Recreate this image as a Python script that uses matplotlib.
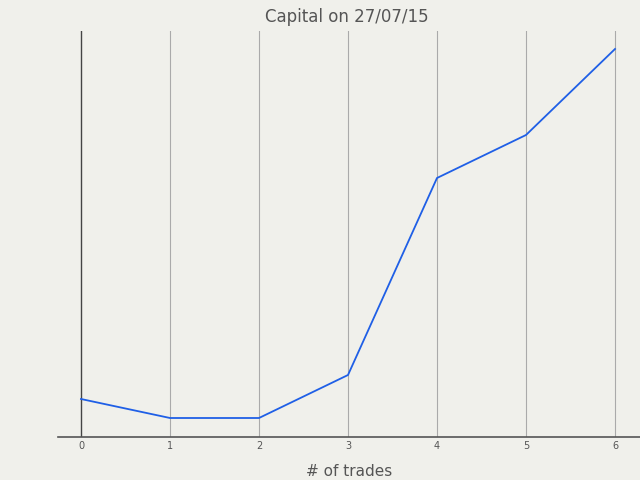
import matplotlib
matplotlib.use("Agg")
import matplotlib.pyplot as plt

trades = [0, 1, 2, 3, 4, 5, 6]
capital = [38, 19, 19, 62, 259, 302, 388]
title = "Capital on 27/07/15"
xlabel = "# of trades"

bg = "#f0f0eb"
fig = plt.figure(figsize=(6.4, 4.8), dpi=100, facecolor=bg)
ax = fig.add_axes([58/640, 1-437/480, 1-58/640, (437-31)/480], facecolor=bg)

for t in trades:
    ax.axvline(t, color="#444444" if t == 0 else "#aaaaaa", lw=1.0 if t == 0 else 0.8, zorder=1)

ax.plot(trades, capital, color="#1f5fe6", lw=1.3, zorder=3)

ax.set_xlim(-23/89, 6 + 25/89)
ax.set_ylim(0, 406)
for s in ["left", "right", "top"]:
    ax.spines[s].set_visible(False)
ax.spines["bottom"].set_color("#555555")
ax.spines["bottom"].set_linewidth(1.2)
ax.set_yticks([])
ax.set_xticks(trades)
ax.tick_params(axis="x", length=0, pad=3, labelsize=7, labelcolor="#555555")
ax.set_xlabel(xlabel, fontsize=11, color="#555555", labelpad=9)
fig.text(347/640, 1-17/480, title, ha="center", va="center", fontsize=12, color="#555555")

fig.savefig("out.png", dpi=100, facecolor=bg)
